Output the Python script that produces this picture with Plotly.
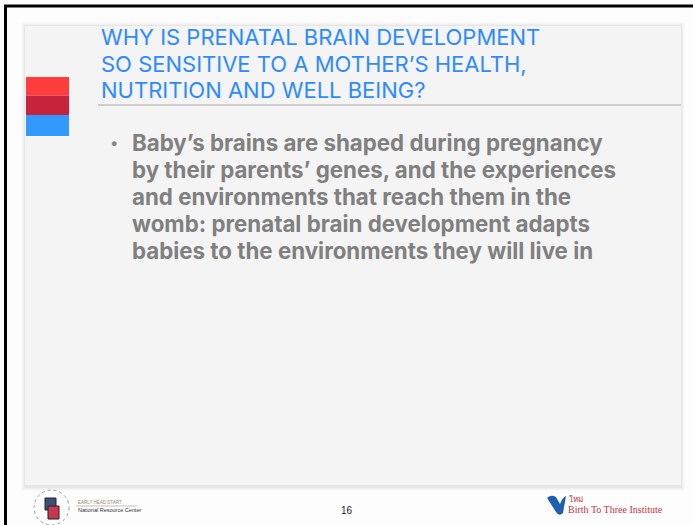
import plotly.graph_objects as go

W, H = 693, 525

title_lines = [
    "WHY IS PRENATAL BRAIN DEVELOPMENT",
    "SO SENSITIVE TO A MOTHER’S HEALTH,",
    "NUTRITION AND WELL BEING?",
]
bullet_lines = [
    "Baby’s brains are shaped during pregnancy",
    "by their parents’ genes, and the experiences",
    "and environments that reach them in the",
    "womb: prenatal brain development adapts",
    "babies to the environments they will live in",
]
block_colors = ["#ff3d3d", "#c8233c", "#3399ff"]
page_number = "16"
left_logo_texts = ["EARLY HEAD START", "National Resource Center"]
right_logo_text = "Birth To Three Institute"

fig = go.Figure()
fig.add_trace(go.Scatter(x=[0, W], y=[0, H], mode="markers",
                         marker=dict(opacity=0), hoverinfo="skip", showlegend=False))

shapes = []
# soft shadow around slide panel
for i, a in enumerate([0.012, 0.018, 0.025, 0.035]):
    d = 4 - i
    shapes.append(dict(type="rect", x0=25 - d, x1=681 + d, y0=26 - d, y1=485 + d + 2,
                       fillcolor=f"rgba(0,0,0,{a})", line=dict(width=0), layer="below"))
shapes.append(dict(type="rect", x0=25, x1=681, y0=26, y1=485,
                   fillcolor="#f4f4f4", line=dict(width=0), layer="below"))
# color blocks
block_edges = [77, 95.5, 115, 136]
for i, c in enumerate(block_colors):
    shapes.append(dict(type="rect", x0=26, x1=69, y0=block_edges[i], y1=block_edges[i + 1],
                       fillcolor=c, line=dict(width=0)))
# title underline
shapes.append(dict(type="line", x0=98, x1=681, y0=105, y1=105,
                   line=dict(color="#a6a6a6", width=1)))
# black frame
shapes.append(dict(type="line", x0=4, x1=W, y0=6, y1=6, line=dict(color="black", width=3)))
shapes.append(dict(type="line", x0=5.5, x1=5.5, y0=5, y1=H, line=dict(color="black", width=3)))

# left logo (simplified)
shapes.append(dict(type="circle", x0=34, x1=69, y0=490, y1=525,
                   line=dict(color="#9a9a9a", width=1, dash="dot")))
shapes.append(dict(type="rect", x0=45, x1=56, y0=498, y1=510,
                   fillcolor="#3a4f7a", line=dict(color="#222", width=1)))
shapes.append(dict(type="rect", x0=48, x1=59, y0=506, y1=519,
                   fillcolor="#c9374a", line=dict(color="#222", width=1)))
shapes.append(dict(type="line", x0=76, x1=137, y0=506, y1=506,
                   line=dict(color="#999", width=0.6)))
# right logo icon (simplified)
shapes.append(dict(type="path",
                   path="M 547 498 Q 551 494 556 497 L 560 504 Q 562 498 566 496 L 563 513 Q 559 517 556 512 Z",
                   fillcolor="#1f5fb0", line=dict(width=0)))

annotations = []
for i, t in enumerate(title_lines):
    annotations.append(dict(x=99, y=37 + 26.7 * i, text=t, showarrow=False,
                            xanchor="left", yanchor="middle",
                            font=dict(family="Inter", size=22, color="#2e8bff")))
annotations.append(dict(x=108, y=142, text="•", showarrow=False, xanchor="left",
                        yanchor="middle", font=dict(family="Inter", size=15, color="#858585")))
for i, t in enumerate(bullet_lines):
    annotations.append(dict(x=130, y=142 + 27.2 * i, text=t, showarrow=False,
                            xanchor="left", yanchor="middle",
                            font=dict(family="Inter", size=22.3, color="#808080",
                                      weight="bold")))
annotations.append(dict(x=347, y=510, text=page_number, showarrow=False,
                        xanchor="center", yanchor="middle",
                        font=dict(family="Liberation Sans", size=10, color="#222")))
annotations.append(dict(x=76, y=502, text=left_logo_texts[0], showarrow=False,
                        xanchor="left", yanchor="middle",
                        font=dict(family="Liberation Sans", size=4.5, color="#a08a60")))
annotations.append(dict(x=76, y=510, text=left_logo_texts[1], showarrow=False,
                        xanchor="left", yanchor="middle",
                        font=dict(family="Liberation Sans", size=5.5, color="#333")))
annotations.append(dict(x=566, y=509, text=right_logo_text, showarrow=False,
                        xanchor="left", yanchor="middle",
                        font=dict(family="Liberation Serif", size=10, color="#c8323a")))
annotations.append(dict(x=567, y=499, text="ใหม่", showarrow=False,
                        xanchor="left", yanchor="middle",
                        font=dict(family="Liberation Serif", size=8, color="#c8323a")))

fig.update_layout(
    width=W, height=H, margin=dict(l=0, r=0, t=0, b=0),
    paper_bgcolor="#fdfdfd", plot_bgcolor="#fdfdfd",
    xaxis=dict(range=[0, W], visible=False, fixedrange=True),
    yaxis=dict(range=[H, 0], visible=False, fixedrange=True),
    shapes=shapes, annotations=annotations, showlegend=False,
)
fig.write_html("out.html", config={"displayModeBar": False},
               post_script="document.body.style.margin='0';document.body.style.overflow='hidden';")
